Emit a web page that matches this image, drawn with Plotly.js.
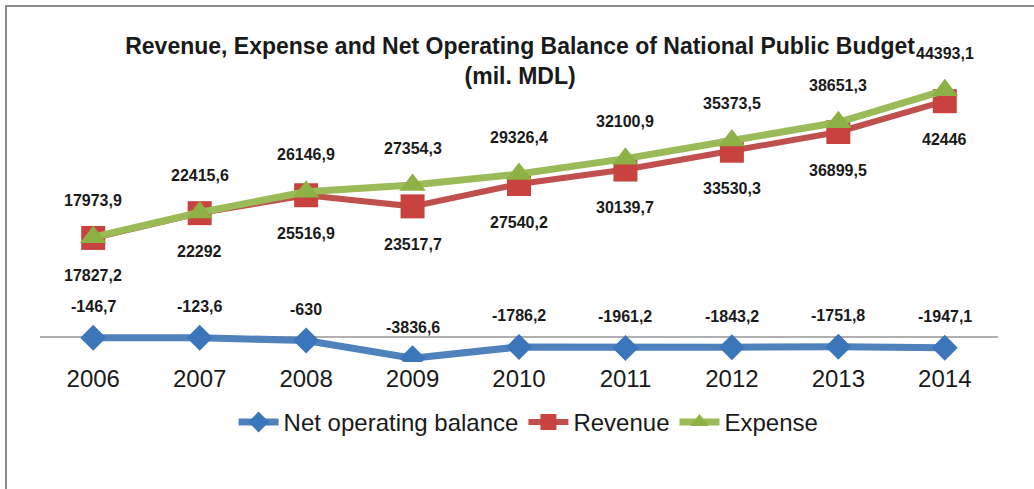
<!DOCTYPE html>
<html><head><meta charset="utf-8">
<script src="https://cdn.plot.ly/plotly-3.0.1.min.js"></script>
<style>
html,body{margin:0;padding:0;background:#fff;overflow:hidden;}
#frame{position:absolute;left:5px;top:5px;width:1100px;height:600px;border:2px solid #8c8c8c;box-sizing:border-box;}
#chart{position:absolute;left:0;top:0;width:1034px;height:489px;}
</style></head>
<body>
<div id="frame"></div>
<div id="chart"></div>
<script>
const years = ['2006','2007','2008','2009','2010','2011','2012','2013','2014'];
const netBalance = [-146.7, -123.6, -630, -3836.6, -1786.2, -1961.2, -1843.2, -1751.8, -1947.1];
const revenue = [17827.2, 22292, 25516.9, 23517.7, 27540.2, 30139.7, 33530.3, 36899.5, 42446];
const expense = [17973.9, 22415.6, 26146.9, 27354.3, 29326.4, 32100.9, 35373.5, 38651.3, 44393.1];

const fmt = v => String(v).replace('.', ',');
const FONT = 'Liberation Sans, Arial, sans-serif';

const traces = [
  {x: years, y: netBalance, name: 'Net operating balance', mode: 'lines+markers',
   line: {color: '#4F81BD', width: 7}, marker: {symbol: 'diamond', size: 20, color: '#3C76BA'}},
  {x: years, y: revenue, name: 'Revenue', mode: 'lines+markers',
   line: {color: '#C0504D', width: 6}, marker: {symbol: 'square', size: 24, color: '#C8433F'}},
  {x: years, y: expense, name: 'Expense', mode: 'lines+markers',
   line: {color: '#9BBB59', width: 7}, marker: {symbol: 'triangle-up', size: 23, color: '#8DB145'}}
];

const annotations = [];
function addLabels(vals, shift) {
  for (let i = 0; i < vals.length; i++) {
    annotations.push({
      x: i, y: vals[i], xref: 'x', yref: 'y', text: '<b>' + fmt(vals[i]) + '</b>',
      showarrow: false, yshift: shift,
      font: {family: FONT, size: 16, color: '#1a1a1a'}
    });
  }
}
addLabels(netBalance, 31);
addLabels(revenue, -38);
addLabels(expense, 37);

const layout = {
  width: 1034, height: 489,
  paper_bgcolor: 'rgba(0,0,0,0)', plot_bgcolor: 'rgba(0,0,0,0)',
  margin: {l: 40, r: 36, t: 60, b: 127},
  title: {text: '<b>Revenue, Expense and Net Operating Balance of National Public Budget<br>(mil. MDL)</b>',
          font: {family: FONT, size: 23, color: '#1a1a1a'}, x: 0.503, xanchor: 'center', y: 0.89, yanchor: 'top'},
  xaxis: {type: 'category', range: [-0.5, 8.5], showline: false, showgrid: false, zeroline: false,
          ticks: '', tickfont: {family: FONT, size: 24, color: '#1a1a1a'}, ticklabelstandoff: 0},
  yaxis: {range: [-4500, 49860], showgrid: false, showticklabels: false, zeroline: true,
          zerolinecolor: '#b0b0b0', zerolinewidth: 1.5, showline: false},
  showlegend: true,
  legend: {orientation: 'h', x: 0.51, xanchor: 'center', y: -0.2, yanchor: 'middle',
           font: {family: FONT, size: 24, color: '#1a1a1a'}, itemwidth: 40, tracegroupgap: 0},
  annotations: annotations
};

Plotly.newPlot('chart', traces, layout, {displayModeBar: false, staticPlot: true});
</script>
</body></html>
